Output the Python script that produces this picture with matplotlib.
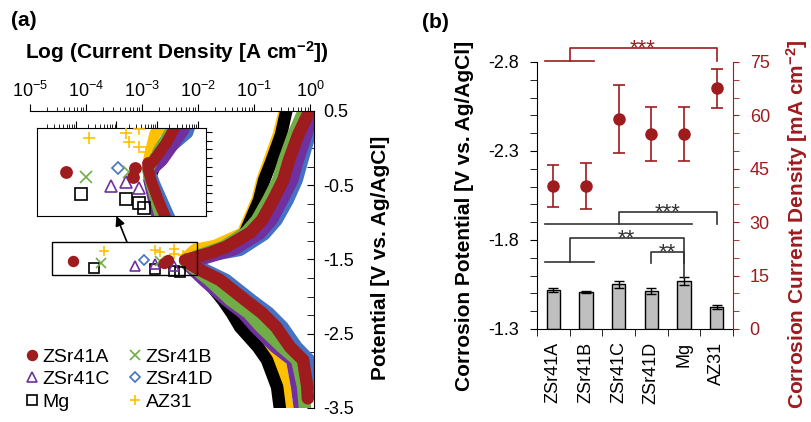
import matplotlib
matplotlib.use("Agg")
import matplotlib.pyplot as plt
import numpy as np
from matplotlib.lines import Line2D
from matplotlib.patches import Rectangle
from matplotlib.ticker import (FixedLocator, MultipleLocator, NullFormatter,
                               FormatStrFormatter, LogLocator)

plt.rcParams["font.family"] = ["Liberation Sans", "DejaVu Sans"]
plt.rcParams["mathtext.fontset"] = "custom"
plt.rcParams["mathtext.rm"] = "Liberation Sans"
plt.rcParams["mathtext.bf"] = "Liberation Sans:bold"
plt.rcParams["mathtext.it"] = "Liberation Sans:italic"
plt.rcParams["axes.unicode_minus"] = False

RED = "#9E1B1E"
SAMPLES = ["ZSr41A", "ZSr41B", "ZSr41C", "ZSr41D", "Mg", "AZ31"]
COLORS = ["#9E1B1E", "#70AD47", "#7030A0", "#4472C4", "#000000", "#FFC000"]
MARKERS = ["o", "x", "^", "D", "s", "+"]
DRAW_ORDER = ["AZ31", "Mg", "ZSr41D", "ZSr41C", "ZSr41B", "ZSr41A"]

# ---- (a) polarization curves: log10(current density [A/cm2]) vs potential [V]
# each curve runs cathodic end -> corrosion tip -> anodic end
A_LOGI = [-0.04, -0.05, -0.125, -0.357, -0.607, -0.86, -1.16, -1.61, -1.964, -2.143, -2.232,
          -2.089, -1.786, -1.5, -1.07, -0.857, -0.66, -0.48, -0.375, -0.214, -0.036]
A_E = [-3.37, -3.217, -2.854, -2.68, -2.41, -2.22, -2.045, -1.776, -1.641, -1.561, -1.507,
       -1.480, -1.412, -1.33, -1.14, -0.968, -0.70, -0.43, -0.16, 0.177, 0.46]
B_LOGI = [-0.089, -0.125, -0.23, -0.50, -0.875, -1.10, -1.42, -1.80, -2.143, -2.232,
          -1.964, -1.55, -1.15, -0.95, -0.75, -0.57, -0.46, -0.30, -0.10]
B_E = [-3.527, -3.217, -2.854, -2.68, -2.41, -2.22, -2.045, -1.776, -1.574, -1.520,
       -1.439, -1.33, -1.14, -0.968, -0.70, -0.43, -0.16, 0.177, 0.52]
C_LOGI = [-0.179, -0.232, -0.32, -0.62, -0.98, -1.20, -1.50, -1.90, -2.179, -2.21,
          -1.875, -1.35, -0.90, -0.69, -0.50, -0.32, -0.22, -0.07, 0.0]
C_E = [-3.527, -3.217, -2.854, -2.68, -2.41, -2.22, -2.045, -1.776, -1.574, -1.53,
       -1.480, -1.36, -1.15, -0.97, -0.70, -0.43, -0.16, 0.177, 0.38]
D_LOGI = [0.0, -0.02, -0.24, -0.49, -0.74, -1.05, -1.50, -2.054, -2.2,
          -1.9, -1.25, -0.82, -0.60, -0.40, -0.24, -0.14, -0.02, 0.03]
D_E = [-3.19, -2.85, -2.68, -2.41, -2.22, -2.045, -1.776, -1.574, -1.51,
       -1.46, -1.37, -1.16, -0.97, -0.70, -0.43, -0.16, 0.15, 0.30]
MG_LOGI = [-0.536, -0.589, -0.77, -0.93, -1.25, -1.40, -1.56, -1.85, -2.107, -2.2,
           -1.964, -1.518, -1.161, -0.91, -0.82, -0.68, -0.52, -0.41]
MG_E = [-3.527, -3.217, -2.854, -2.68, -2.41, -2.22, -2.045, -1.776, -1.60, -1.56,
        -1.47, -1.345, -1.143, -0.70, -0.43, -0.16, 0.177, 0.55]
AZ_LOGI = [-0.411, -0.464, -0.55, -0.85, -1.22, -1.38, -1.52, -1.80, -2.143, -2.2,
           -2.054, -1.696, -1.20, -0.94, -0.85, -0.72, -0.56, -0.45]
AZ_E = [-3.487, -3.19, -2.854, -2.68, -2.41, -2.22, -2.045, -1.776, -1.574, -1.47,
        -1.372, -1.318, -1.15, -0.70, -0.43, -0.16, 0.177, 0.5]

# sparse points close to the corrosion potential
A_PTS_LOGI = [-4.226, -2.601, -2.535, -2.235]
A_PTS_E = [-1.526, -1.544, -1.508, -1.490]
B_PTS_LOGI = [-3.738, -2.682]
B_PTS_E = [-1.544, -1.524]
C_PTS_LOGI = [-3.128, -2.762, -2.438]
C_PTS_E = [-1.581, -1.564, -1.589]
D_PTS_LOGI = [-2.967]
D_PTS_E = [-1.510]
MG_PTS_LOGI = [-3.860, -2.762, -2.438, -2.316]
MG_PTS_E = [-1.614, -1.634, -1.649, -1.669]
AZ_PTS_LOGI = [-3.674, -2.762, -2.438, -2.682, -2.438, -2.274]
AZ_PTS_E = [-1.389, -1.371, -1.354, -1.404, -1.424, -1.444]

E_TICKS_A = [0.5, -0.5, -1.5, -2.5, -3.5]
ZOOM_BOX_LOGI = (-4.61, -2.02)
ZOOM_BOX_E = (-1.709, -1.264)
INSET_LOGI = (-4.95, -0.8)
INSET_E = (-1.70, -1.35)

# ---- (b) corrosion potential (bars) and corrosion current density (points)
ECORR = [-1.52, -1.51, -1.55, -1.513, -1.57, -1.425]
ECORR_ERR = [0.012, 0.005, 0.02, 0.016, 0.024, 0.011]
ICORR = [40.2, 40.2, 58.9, 54.7, 54.7, 67.6]
ICORR_ERR = [5.8, 6.5, 9.6, 7.6, 7.6, 5.5]
E_TICKS_B = [-2.8, -2.3, -1.8, -1.3]
# (group indices, target index, top level, group level, target level, label, color)
BRACKETS = [
    ([0, 1], 5, -2.879, -2.806, -2.806, "***", RED),
    ([0, 1, 2, 3, 4], 5, -1.959, -1.890, -1.890, "***", "#333333"),
    ([0, 1], 4, -1.810, -1.675, -1.587, "**", "#333333"),
    ([3], 4, -1.731, -1.669, -1.669, "**", "#333333"),
]

CURVES = {
    "ZSr41A": (A_LOGI, A_E, A_PTS_LOGI, A_PTS_E),
    "ZSr41B": (B_LOGI, B_E, B_PTS_LOGI, B_PTS_E),
    "ZSr41C": (C_LOGI, C_E, C_PTS_LOGI, C_PTS_E),
    "ZSr41D": (D_LOGI, D_E, D_PTS_LOGI, D_PTS_E),
    "Mg": (MG_LOGI, MG_E, MG_PTS_LOGI, MG_PTS_E),
    "AZ31": (AZ_LOGI, AZ_E, AZ_PTS_LOGI, AZ_PTS_E),
}


def marker_style(name, size):
    i = SAMPLES.index(name)
    col = COLORS[i]
    m = MARKERS[i]
    filled = m == "o"
    ms = size * (0.75 if m == "D" else 1.0)
    return dict(marker=m, ms=ms, mec=col, mfc=col if filled else "none",
                mew=1.2, ls="none", color=col)


def draw_curves(ax, lw, ms):
    for name in DRAW_ORDER:
        logi, e, plogi, pe = CURVES[name]
        col = COLORS[SAMPLES.index(name)]
        ax.plot(10.0 ** np.array(logi), e, color=col, lw=lw,
                solid_capstyle="round", solid_joinstyle="round", zorder=2)
        ax.plot(10.0 ** np.array(plogi), pe, zorder=3, **marker_style(name, ms))


fig = plt.figure(figsize=(8.11, 4.22), dpi=100)

# ---------------- panel (a)
ax = fig.add_axes([0.0370, 0.0332, 0.3502, 0.7038])
draw_curves(ax, lw=9, ms=7)
ax.set_xscale("log")
ax.set_xlim(1e-5, 10 ** 0.07)
ax.set_ylim(-3.5, 0.5)
for s in ("left", "bottom"):
    ax.spines[s].set_visible(False)
ax.xaxis.tick_top()
ax.yaxis.tick_right()
ax.xaxis.set_major_locator(LogLocator(base=10, numticks=10))
ax.xaxis.set_minor_locator(LogLocator(base=10, subs=np.arange(2, 10), numticks=10))
ax.xaxis.set_minor_formatter(NullFormatter())
ax.yaxis.set_major_locator(FixedLocator(E_TICKS_A))
ax.yaxis.set_minor_locator(MultipleLocator(0.25))
ax.yaxis.set_major_formatter(FormatStrFormatter("%.1f"))
ax.tick_params(axis="x", which="major", direction="out", length=5, labelsize=13, pad=2)
ax.tick_params(axis="x", which="minor", direction="out", length=3)
ax.tick_params(axis="y", which="both", direction="in", length=5, labelsize=13, pad=7)

ax.add_patch(Rectangle((10 ** ZOOM_BOX_LOGI[0], ZOOM_BOX_E[0]),
                       10 ** ZOOM_BOX_LOGI[1] - 10 ** ZOOM_BOX_LOGI[0],
                       ZOOM_BOX_E[1] - ZOOM_BOX_E[0],
                       fill=False, ec="black", lw=1, zorder=5))

ins = fig.add_axes([0.0456, 0.4882, 0.2084, 0.2085])
draw_curves(ins, lw=8, ms=8)
ins.set_xscale("log")
ins.set_xlim(10 ** INSET_LOGI[0], 10 ** INSET_LOGI[1])
ins.set_ylim(*INSET_E)
ins.xaxis.tick_top()
ins.yaxis.tick_right()
ins.xaxis.set_minor_locator(LogLocator(base=10, subs=np.arange(2, 10), numticks=10))
ins.yaxis.set_major_locator(MultipleLocator(0.035))
ins.tick_params(axis="both", which="both", direction="out", labeltop=False,
                labelright=False, labelleft=False, labelbottom=False)
ins.tick_params(axis="x", which="major", length=5)
ins.tick_params(axis="x", which="minor", length=3)
ins.tick_params(axis="y", length=4)

ax.annotate("", xy=(0.47, 0.0), xycoords=ins.transAxes,
            xytext=(10 ** -3.27, ZOOM_BOX_E[1]), textcoords="data",
            arrowprops=dict(arrowstyle="-|>", color="black", lw=1.2,
                            mutation_scale=14, shrinkA=0, shrinkB=0),
            annotation_clip=False, zorder=6)

order = [0, 2, 4, 1, 3, 5]
handles = [Line2D([], [], **marker_style(SAMPLES[i], 7)) for i in order]
fig.legend(handles, [SAMPLES[i] for i in order], ncol=2, loc="upper left",
           bbox_to_anchor=(26 / 811, 1 - 348 / 422), frameon=False, fontsize=14,
           handlelength=0.6, handletextpad=0.25, columnspacing=1.0,
           labelspacing=0.25, borderpad=0, borderaxespad=0)

fig.text(177 / 811, 1 - 52 / 422, r"Log (Current Density [A cm$^{\mathbf{-2}}$])",
         ha="center", va="center", fontsize=15, fontweight="bold")
fig.text(381 / 811, 1 - 258 / 422, "Potential [V vs. Ag/AgCl]", rotation=90,
         ha="center", va="center", fontsize=15, fontweight="bold")
fig.text(24 / 811, 1 - 20 / 422, "(a)", ha="center", va="center",
         fontsize=15, fontweight="bold")

# ---------------- panel (b)
x = np.arange(len(SAMPLES))
e_base = E_TICKS_B[-1]
axb = fig.add_axes([0.6621, 0.2204, 0.2417, 0.6327])
axb.bar(x, np.array(ECORR) - e_base, bottom=e_base, width=0.4, color="#BFBFBF",
        edgecolor="black", linewidth=1, yerr=ECORR_ERR, capsize=3.5,
        error_kw=dict(elinewidth=1, capthick=1, ecolor="black"), zorder=2)
axb.set_xlim(-0.5, len(SAMPLES) - 0.5)
axb.set_ylim(E_TICKS_B[-1], E_TICKS_B[0])
axb.spines["top"].set_visible(False)
axb.spines["right"].set_visible(False)
axb.yaxis.set_major_locator(FixedLocator(E_TICKS_B))
axb.yaxis.set_minor_locator(MultipleLocator(0.1))
axb.yaxis.set_major_formatter(FormatStrFormatter("%.1f"))
axb.tick_params(axis="y", which="both", direction="out", length=5, labelsize=13, pad=8)
axb.set_xticks(x)
axb.set_xticklabels(SAMPLES, rotation=90)
axb.xaxis.set_minor_locator(FixedLocator(np.append(x - 0.5, x[-1] + 0.5)))
axb.tick_params(axis="x", which="major", length=0, labelsize=13, pad=9)
axb.tick_params(axis="x", which="minor", direction="out", length=5)

for group, target, y_top, y_group, y_target, label, col in BRACKETS:
    gx = float(np.mean(group))
    kw = dict(color=col, lw=1.2, clip_on=False, zorder=4)
    if len(group) > 1:
        axb.plot([min(group) - 0.25, max(group) + 0.25], [y_group, y_group], **kw)
    axb.plot([gx, gx, target, target], [y_group, y_top, y_top, y_target], **kw)
    axb.annotate(label, xy=((gx + target) / 2, y_top), xytext=(0, -4.5),
                 textcoords="offset points", ha="center", va="baseline",
                 fontsize=16, color=col, annotation_clip=False)

axr = axb.twinx()
axr.errorbar(x, ICORR, yerr=ICORR_ERR, fmt="o", color=RED, ms=8, capsize=4.5,
             elinewidth=1.2, capthick=1.2, zorder=3)
axr.set_ylim(0, 75)
for s in ("top", "left", "bottom"):
    axr.spines[s].set_visible(False)
axr.spines["right"].set_color(RED)
axr.yaxis.set_major_locator(MultipleLocator(15))
axr.yaxis.set_minor_locator(MultipleLocator(5))
axr.tick_params(axis="y", which="both", direction="out", length=4, colors=RED,
                labelsize=13, pad=8)

fig.text(464 / 811, 1 - 216 / 422, "Corrosion Potential [V vs. Ag/AgCl]", rotation=90,
         ha="center", va="center", fontsize=15, fontweight="bold")
fig.text(797 / 811, 1 - 224 / 422, r"Corrosion Current Density [mA cm$^{\mathbf{-2}}$]",
         rotation=90, ha="center", va="center", fontsize=15, fontweight="bold", color=RED)
fig.text(435 / 811, 1 - 22 / 422, "(b)", ha="center", va="center",
         fontsize=15, fontweight="bold")

fig.savefig("out.png", dpi=100)
